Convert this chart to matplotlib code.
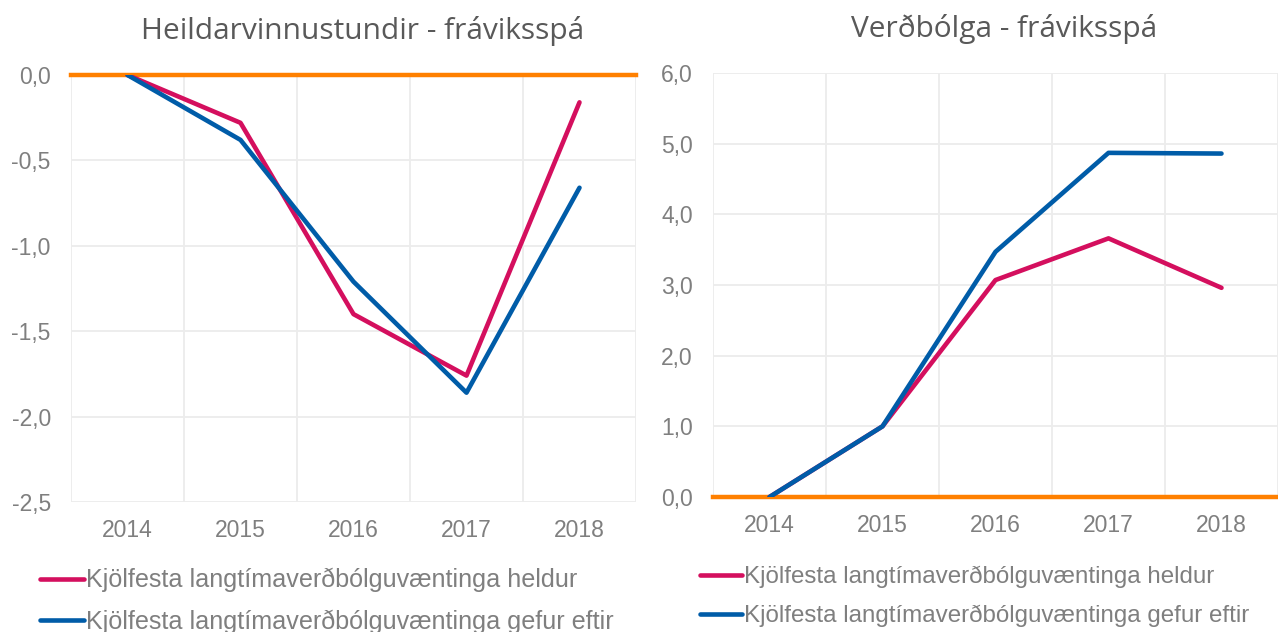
import matplotlib.pyplot as plt
import matplotlib.ticker as ticker

years = ['2014', '2015', '2016', '2017', '2018']
labels = ['Kjölfesta langtímaverðbólguvæntinga heldur',
          'Kjölfesta langtímaverðbólguvæntinga gefur eftir']

hours_heldur = [0.0, -0.28, -1.40, -1.76, -0.16]
hours_gefur = [0.0, -0.38, -1.21, -1.86, -0.66]

infl_heldur = [0.0, 1.0, 3.07, 3.66, 2.96]
infl_gefur = [0.0, 1.0, 3.47, 4.87, 4.86]

pink = '#d40f5e'
blue = '#005ca8'
orange = '#ff8000'
grey = '#7f7f7f'
grid_col = '#ececec'

fig = plt.figure(figsize=(12.78, 6.32), dpi=100)
ax1 = fig.add_axes([71/1278, 1-502/632, 565/1278, 427/632])
ax2 = fig.add_axes([713/1278, 1-497/632, 565/1278, 424/632])

x = list(range(len(years)))


def style(ax, title, ylim, step):
    ax.set_xlim(-0.5, len(years) - 0.5)
    ax.set_ylim(*ylim)
    ax.yaxis.set_major_locator(ticker.MultipleLocator(step))
    ax.yaxis.set_major_formatter(ticker.FuncFormatter(
        lambda v, p: ('%.1f' % v).replace('.', ',').replace('-0,0', '0,0')))
    ax.set_xticks(x)
    ax.set_xticklabels(years)
    ax.set_xticks([i - 0.5 for i in range(len(years) + 1)], minor=True)
    ax.grid(which='major', axis='y', color=grid_col, linewidth=1.3)
    ax.grid(which='minor', axis='x', color=grid_col, linewidth=1.3)
    ax.set_axisbelow(True)
    for s in ax.spines.values():
        s.set_visible(False)
    ax.tick_params(which='both', length=0, labelsize=16.5, colors=grey,
                   labelfontfamily='Liberation Sans')
    ax.tick_params(axis='x', pad=12.5)
    ax.tick_params(axis='y', pad=14.5)
    ax.set_title(title, fontsize=21.5, color='#595959', family='Open Sans', pad=26,
                 x=0.5 + 9/565)


style(ax1, 'Heildarvinnustundir - fráviksspá', (-2.5, 0.0), 0.5)
style(ax2, 'Verðbólga - fráviksspá', (0.0, 6.0), 1.0)

for ax, h, g in [(ax1, hours_heldur, hours_gefur), (ax2, infl_heldur, infl_gefur)]:
    ax.axhline(0, color=orange, linewidth=3.2, zorder=2, clip_on=False)
    ax.plot(x, h, color=pink, linewidth=3.3, label=labels[0], zorder=3,
            solid_capstyle='round')
    ax.plot(x, g, color=blue, linewidth=3.3, label=labels[1], zorder=4,
            solid_capstyle='round')

leg_kw = dict(frameon=False, handlelength=1.75, handletextpad=0.08,
              labelspacing=0.68, loc='upper left', labelcolor=grey,
              borderaxespad=0, borderpad=0)
fig.legend(*ax1.get_legend_handles_labels(), bbox_to_anchor=(40/1278, 1-568/632),
           prop={'family': 'Liberation Sans', 'size': 18.1}, **leg_kw)
fig.legend(*ax2.get_legend_handles_labels(), bbox_to_anchor=(700/1278, 1-566/632),
           prop={'family': 'Liberation Sans', 'size': 17.4}, **leg_kw)

plt.savefig('out.png', dpi=100)
print('done')
